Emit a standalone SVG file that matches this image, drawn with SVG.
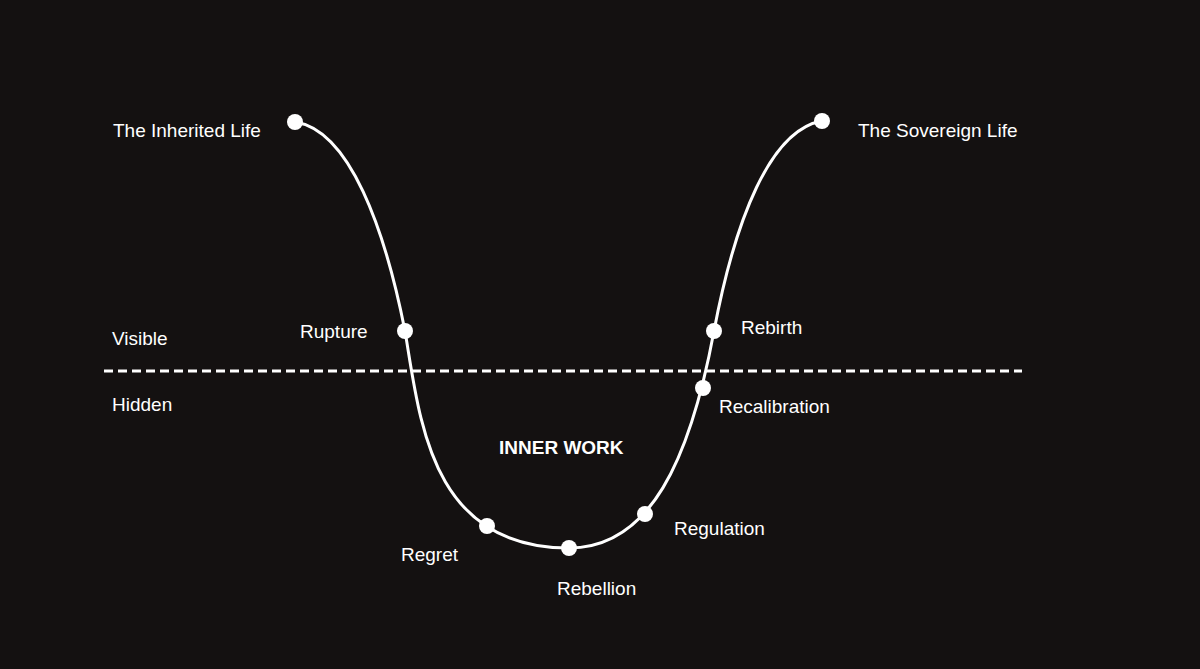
<svg xmlns="http://www.w3.org/2000/svg" width="1200" height="669" viewBox="0 0 1200 669">
<style>
text{font-family:"Liberation Sans",Arial,sans-serif;font-size:19px;fill:#fff}
.d{fill:#fff}
</style>
<rect width="1200" height="669" fill="#141111"/>
<g id="connectors">
<path d="M104,371 H1022" stroke="#fff" stroke-width="3" stroke-dasharray="9 5" fill="none"/>
<path d="M295,122 C350,130 385,230 405,331 C420,420 430,548 569,548 C650,548 690,460 714,331 C735,220 770,130 822,121" stroke="#fff" stroke-width="3" fill="none"/>
</g>
<g id="n1"><circle class="d" cx="295" cy="122" r="8"/><text x="113" y="137">The Inherited Life</text></g>
<g id="n2"><circle class="d" cx="822" cy="121" r="8"/><text x="858" y="137">The Sovereign Life</text></g>
<g id="n3"><circle class="d" cx="405" cy="331" r="8"/><text x="300" y="338">Rupture</text></g>
<g id="n4"><circle class="d" cx="714" cy="331" r="8"/><text x="741" y="334">Rebirth</text></g>
<g id="n5"><circle class="d" cx="703" cy="388" r="8"/><text x="719" y="413">Recalibration</text></g>
<g id="n6"><circle class="d" cx="645" cy="514" r="8"/><text x="674" y="535">Regulation</text></g>
<g id="n7"><circle class="d" cx="569" cy="548" r="8"/><text x="557" y="595">Rebellion</text></g>
<g id="n8"><circle class="d" cx="487" cy="526" r="8"/><text x="401" y="561">Regret</text></g>
<g id="labels">
<text x="112" y="345">Visible</text>
<text x="112" y="411">Hidden</text>
<text x="499" y="454" font-weight="bold">INNER WORK</text>
</g>
</svg>
